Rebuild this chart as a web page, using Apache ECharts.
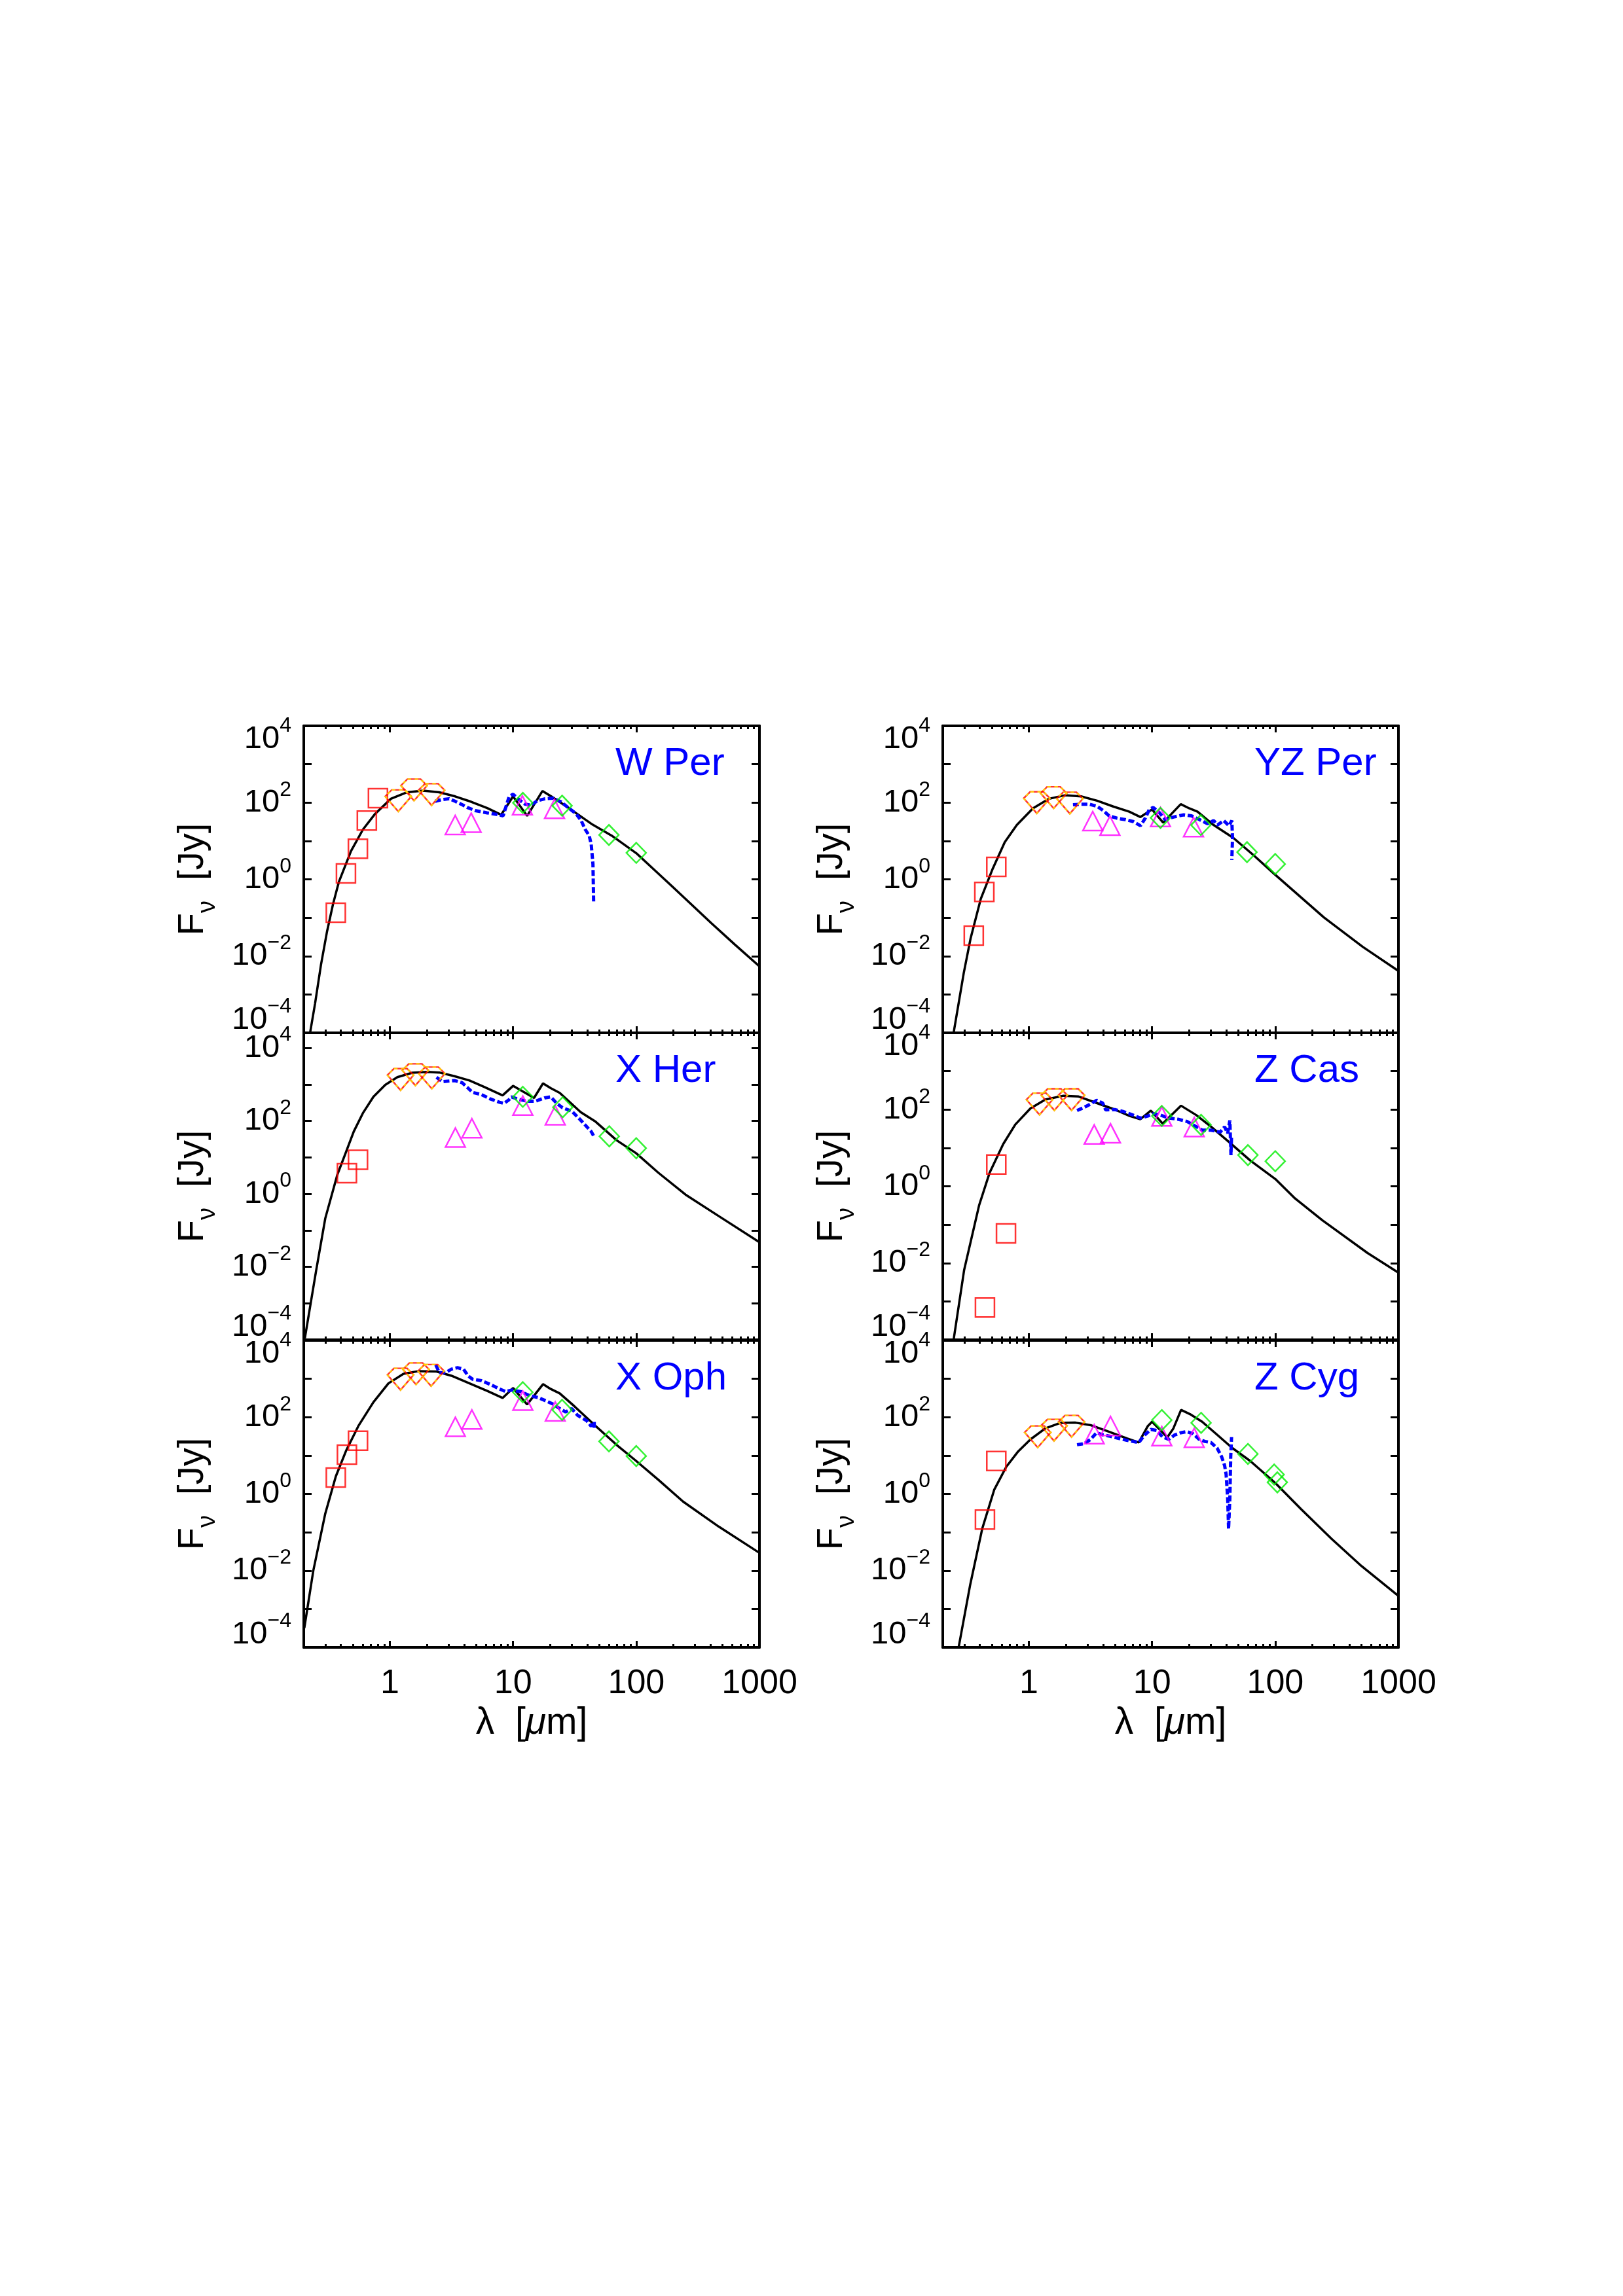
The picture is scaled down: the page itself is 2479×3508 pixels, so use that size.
<!DOCTYPE html>
<html>
<head>
<meta charset="utf-8">
<title>SEDs</title>
<script src="https://cdn.jsdelivr.net/npm/echarts@6/dist/echarts.min.js"></script>
<style>
  html, body { margin: 0; padding: 0; background: #fff; }
  #main { width: 2479px; height: 3508px; }
</style>
</head>
<body>
<div id="main"></div>
<script>
// star names, in panel order (row by row)
var starNames = ['W Per', 'YZ Per', 'X Her', 'Z Cas', 'X Oph', 'Z Cyg'];

// tick positions
var xMajor = [1, 10, 100, 1000];
var xMinor = [0.3, 0.4, 0.5, 0.6, 0.7, 0.8, 0.9, 2, 3, 4, 5, 6, 7, 8, 9,
              20, 30, 40, 50, 60, 70, 80, 90, 200, 300, 400, 500, 600, 700, 800, 900];
var yDecades = [1e-4, 1e-3, 1e-2, 1e-1, 1, 10, 100, 1e3, 1e4];

// ---- W Per ----  [wavelength um, flux Jy]
var wPerModel = [[0.225,1e-4],[0.247,5.8e-4],[0.276,6.0e-3],[0.309,0.044],[0.346,0.23],[0.386,0.87],[0.484,5.5],[0.605,20],[0.759,51],[1.02,126],[1.38,186],[1.86,204],[2.51,186],[3.39,145],[4.57,105],[6.17,72],[8.0,48],[10,145],[13,45],[17.3,200],[20.4,145],[29.5,66],[43.2,28],[63.1,13.8],[100,4.8],[193,0.68],[407,0.072],[631,0.02],[1000,0.0054]];
var wPerSws = [[2.33,108],[2.61,119],[3.03,126],[3.39,108],[3.79,91],[4.24,75],[4.92,62],[6.16,54],[7.71,48],[8.3,45],[9.3,145],[10,165],[11.2,119],[12.5,91],[14,86],[15.7,111],[18.2,126],[21.2,130],[24.6,104],[28.6,70],[32.5,51],[35.7,34],[38.5,20],[41.5,13.7],[43.1,8.1],[44.5,2.5],[45.1,0.24]];
var wPerUbvri = [[0.364,0.135],[0.44,1.42],[0.55,6.3],[0.65,34],[0.80,130]];
var wPerJhk = [[1.17,112],[1.57,214],[2.18,162]];
var wPerWise = [[3.39,26],[4.57,30],[11.9,85],[21.7,69]];
var wPerIras = [[12,98],[25,83],[60,14.3],[100,4.9]];

// ---- YZ Per ----
var yzPerModel = [[0.245,1e-4],[0.296,3.6e-3],[0.337,0.0295],[0.407,0.31],[0.509,1.9],[0.637,9.3],[0.798,26],[1.08,71],[1.46,126],[1.96,155],[2.65,145],[3.58,112],[4.84,79],[6.53,58],[8.05,42],[10,66],[12.3,30],[17.1,91],[20,71],[23.4,58],[31.6,26],[45.7,12],[67,4.2],[98,1.39],[249,0.101],[513,0.0174],[1000,0.0041]];
var yzPerSws = [[2.28,88],[2.65,91],[3.08,91],[3.58,80],[4.01,62],[4.49,45],[5.21,39],[6.06,36],[7.04,32],[8.05,25],[8.8,39],[9.5,66],[10.2,75],[11.5,54],[12.8,36],[14.9,42],[18,48],[20.9,45],[24.3,36],[28.2,28],[31.6,34],[34,26],[38.1,34],[42.1,25],[44.4,34],[45,12],[44.4,3.2]];
var yzPerUbvri = [[0.357,0.034],[0.435,0.47],[0.544,2.1]];
var yzPerJhk = [[1.16,100],[1.59,135],[2.15,98]];
var yzPerWise = [[3.3,33],[4.55,25],[11.7,42],[21.7,23]];
var yzPerIras = [[11.7,40],[24.9,26],[59,5.1],[100,2.5]];

// ---- X Her ----
var xHerModel = [[0.204,1.1e-4],[0.252,7.9e-3],[0.299,0.214],[0.374,3.3],[0.443,14.8],[0.509,51],[0.603,162],[0.735,457],[0.918,977],[1.15,1585],[1.52,2090],[2.02,2210],[2.52,2120],[3.34,1680],[4.43,1280],[5.86,850],[8.22,500],[10,912],[14.8,427],[17.5,1070],[20.2,794],[23.9,589],[35.4,174],[46.8,95],[69.2,29.5],[100,12.9],[151,3.8],[251,0.955],[468,0.245],[1000,0.047]];
var xHerSws = [[2.39,1570],[2.67,1190],[3.34,1280],[3.85,1120],[4.31,794],[4.69,603],[5.55,525],[6.56,398],[7.76,324],[8.45,302],[9.2,372],[9.7,457],[10.9,398],[12.9,347],[15.2,347],[18,427],[20.2,457],[22.6,302],[25.2,229],[29.9,186],[34.4,116],[38.5,77],[43.1,51],[45.6,36]];
var xHerUbvri = [[0.448,3.7],[0.551,8.6]];
var xHerJhk = [[1.22,1370],[1.61,1850],[2.19,1510]];
var xHerWise = [[3.4,35],[4.63,63],[12,263],[22,143]];
var xHerIras = [[12,457],[25.3,237],[60.4,37.8],[100,17.8]];

// ---- Z Cas ----
var zCasModel = [[0.245,1e-4],[0.298,6.5e-3],[0.395,0.324],[0.481,2.29],[0.619,12.6],[0.776,40.7],[1.03,107],[1.36,182],[1.91,229],[2.53,219],[3.55,148],[4.98,100],[6.59,68],[8.04,56],[9.77,94],[12.2,43],[17.2,126],[22.8,72],[30.2,35.5],[42.3,14.1],[62.7,4.7],[100,1.55],[145,0.48],[242,0.129],[562,0.0182],[1000,0.0056]];
var zCasSws = [[2.46,94],[2.83,115],[3.17,140],[3.55,174],[3.97,148],[4.2,98],[4.98,100],[5.89,88],[6.98,72],[8.04,60],[9.24,68],[10.3,78],[11.6,72],[13.7,60],[16.2,56],[19.2,49],[21.5,40],[25.5,29],[30.1,29],[35.7,25.7],[38.8,35.5],[41.1,24],[42.8,52],[43.7,6.5],[44.2,21]];
var zCasUbvri = [[0.44,6.9e-4],[0.544,3.7],[0.652,0.059]];
var zCasJhk = [[1.22,140],[1.61,182],[2.22,182]];
var zCasWise = [[3.39,22.4],[4.6,24],[12,66],[22,35]];
var zCasIras = [[12,68],[25,40],[60,6.5],[100,4.5]];

// ---- X Oph ----
var xOphModel = [[0.202,3.2e-4],[0.239,0.01],[0.299,0.309],[0.364,2.86],[0.443,13.8],[0.555,59],[0.735,245],[0.973,759],[1.29,1350],[1.71,1585],[2.39,1550],[3.16,1200],[4.43,759],[6.21,479],[8.22,316],[10,575],[13,214],[17.5,724],[20.2,543],[23.9,417],[31.6,190],[46.8,59],[69.2,19],[100,7.2],[151,2.34],[240,0.63],[468,0.14],[1000,0.029]];
var xOphSws = [[2.36,2290],[2.52,1450],[2.83,1450],[3.16,1780],[3.54,1950],[3.96,1780],[4.31,1200],[4.69,977],[5.55,891],[6.56,708],[7.76,543],[8.69,465],[9.72,509],[11.5,465],[13.6,366],[16.1,321],[19.1,254],[21.3,217],[23.9,167],[26.7,137],[29.9,167],[33.4,112],[39.6,81],[43.1,58],[45.6,76],[45.6,48]];
var xOphUbvri = [[0.364,2.67],[0.448,10.6],[0.551,24.3]];
var xOphJhk = [[1.22,977],[1.63,1360],[2.16,1230]];
var xOphWise = [[3.4,56],[4.63,87],[12,270],[22,141]];
var xOphIras = [[12,447],[25,155],[60,23.4],[100,9.7]];

// ---- Z Cyg ----
var zCygModel = [[0.269,1e-4],[0.333,4.1e-3],[0.418,0.123],[0.524,1.3],[0.656,5.1],[0.82,12.9],[1.03,26.3],[1.36,51],[1.81,71],[2.39,72],[3.17,62],[4.45,42],[6.24,28],[7.8,22],[9.25,59],[10,76],[13.3,30],[14.9,51],[17.2,155],[20.3,120],[25.5,76],[33.7,35],[44.7,15.8],[62.7,7.2],[100,1.93],[162,0.4],[286,0.068],[501,0.0132],[1000,2.2e-3]];
var zCygSws = [[2.46,19.1],[2.83,20.4],[3.17,26.5],[3.55,39.4],[3.97,34.6],[4.45,32.4],[5.26,28.4],[6.23,24.9],[7.8,21.8],[8.73,34.5],[9.78,48],[10.9,45],[12.2,30.3],[13.7,26.5],[15.3,34.5],[17.2,39.4],[19.2,42],[21.5,36.9],[24.1,26.5],[26.9,23.3],[30.1,21.8],[33.7,15.7],[36.7,9.3],[38.8,5.5],[39.9,3.26],[41.1,0.77],[41.8,0.122],[42.8,0.77],[43.5,9.3],[44.2,30.2]];
var zCygUbvri = [[0.44,0.215],[0.544,7.2]];
var zCygJhk = [[1.18,31],[1.6,46],[2.22,58]];
var zCygWise = [[3.39,36],[4.6,59],[12,32],[22,29]];
var zCygIras = [[12,84],[25,71],[60,11],[98,3.2],[104,2.0]];

// upper flux limit of each panel (X Her plot runs a bit higher)
var yMaxes = [1e4, 1e4, 2.6e4, 1e4, 1e4, 1e4];

var panels = [
  { model: wPerModel, sws: wPerSws, ubvri: wPerUbvri, jhk: wPerJhk, wise: wPerWise, iras: wPerIras },
  { model: yzPerModel, sws: yzPerSws, ubvri: yzPerUbvri, jhk: yzPerJhk, wise: yzPerWise, iras: yzPerIras },
  { model: xHerModel, sws: xHerSws, ubvri: xHerUbvri, jhk: xHerJhk, wise: xHerWise, iras: xHerIras },
  { model: zCasModel, sws: zCasSws, ubvri: zCasUbvri, jhk: zCasJhk, wise: zCasWise, iras: zCasIras },
  { model: xOphModel, sws: xOphSws, ubvri: xOphUbvri, jhk: xOphJhk, wise: xOphWise, iras: xOphIras },
  { model: zCygModel, sws: zCygSws, ubvri: zCygUbvri, jhk: zCygJhk, wise: zCygWise, iras: zCygIras }
];

var font = 'Liberation Sans, Arial, Helvetica, sans-serif';
var colLeft = [464, 1440];
var rowTop = [1109, 1578, 2048];
var gridW = 696, gridH = 469;
var gem = 'path://M25,0 L75,0 L100,30 L50,100 L0,30 Z';

function powLabel(v) {
  var e = Math.round(Math.log(v) / Math.LN10);
  return '{b|10}{s|' + (e < 0 ? '\u2212' + (-e) : e) + '}';
}
// superscript: token height 1 so 'top' puts it on the top of the line box
var powRich = {
  b: { fontSize: 49, lineHeight: 40, fontFamily: font, color: '#000' },
  s: { fontSize: 32, height: 1, lineHeight: 1, verticalAlign: 'top', fontFamily: font, color: '#000' }
};

var grids = [], xAxes = [], yAxes = [], series = [], titles = [];

function xAxis(i, pos, ticks, len, line, labels) {
  var ax = {
    type: 'log', logBase: 10, gridIndex: i, min: 0.2, max: 1000, position: pos,
    axisLine: { show: line, onZero: false, lineStyle: { color: '#000', width: 4 } },
    axisTick: { show: true, inside: true, length: len, customValues: ticks, lineStyle: { color: '#000', width: 3 } },
    axisLabel: { show: false },
    splitLine: { show: false }
  };
  if (labels) {
    ax.axisLabel = {
      show: true, customValues: xMajor, margin: 30, fontSize: 52, fontFamily: font, color: '#000',
      formatter: function (v) { return String(Math.round(v)); }
    };
    ax.name = '{a|\u03bb  [}{m|\u03bc}{a|m]}';
    ax.nameLocation = 'middle';
    ax.nameGap = 88;
    ax.nameTextStyle = { rich: {
      a: { fontSize: 57, fontFamily: font, color: '#000' },
      m: { fontSize: 57, fontFamily: font, fontStyle: 'italic', color: '#000' }
    } };
  }
  return ax;
}

function yAxis(i, pos, max, line, ticks, labels, va) {
  return {
    type: 'log', logBase: 10, gridIndex: i, min: 1e-4, max: max, position: pos,
    axisLine: { show: line, onZero: false, lineStyle: { color: '#000', width: 4 } },
    axisTick: ticks ? { show: true, inside: true, length: 12, customValues: ticks, lineStyle: { color: '#000', width: 3 } } : { show: false },
    axisLabel: labels ? { show: true, customValues: labels, formatter: powLabel, rich: powRich, margin: 19, verticalAlign: va } : { show: false },
    splitLine: { show: false }
  };
}

panels.forEach(function (p, i) {
  var col = i % 2, row = Math.floor(i / 2);
  var bottomRow = row === 2;
  var yMax = yMaxes[i];
  grids.push({ left: colLeft[col], top: rowTop[row], width: gridW, height: gridH });

  // x: bottom major, bottom minor, top major, top minor
  xAxes.push(xAxis(i, 'bottom', xMajor, 10, true, bottomRow));
  xAxes.push(xAxis(i, 'bottom', xMinor, 5, false, false));
  xAxes.push(xAxis(i, 'top', xMajor, 10, true, false));
  xAxes.push(xAxis(i, 'top', xMinor, 5, false, false));

  // y: left with middle labels, top label, bottom label, right frame
  var mid = yMax > 1e4 ? [1e-2, 1, 1e2, 1e4] : [1e-2, 1, 1e2];
  var left = yAxis(i, 'left', yMax, true, yDecades, mid, 'middle');
  left.name = '{f|F}{n|\u03bd}{f|  [Jy]}';
  left.nameLocation = 'middle';
  left.nameGap = 146;
  left.nameTextStyle = { rich: {
    f: { fontSize: 56, lineHeight: 46, fontFamily: font, color: '#000' },
    n: { fontSize: 38, height: 1, lineHeight: 1, verticalAlign: 'bottom', fontFamily: font, color: '#000' }
  } };
  yAxes.push(left);
  yAxes.push(yAxis(i, 'left', yMax, false, null, yMax > 1e4 ? null : [1e4], 'top'));
  yAxes.push(yAxis(i, 'left', yMax, false, null, [1e-4], 'bottom'));
  yAxes.push(yAxis(i, 'right', yMax, true, yDecades, null, 'middle'));

  var xi = 4 * i, yi = 4 * i;
  series.push({
    type: 'line', xAxisIndex: xi, yAxisIndex: yi, data: p.model, symbol: 'none',
    lineStyle: { color: '#000', width: 3.5 }, z: 2
  });
  series.push({
    type: 'line', xAxisIndex: xi, yAxisIndex: yi, data: p.sws, symbol: 'none',
    lineStyle: { color: '#0000ff', width: 5, type: [9, 4] }, z: 3
  });
  series.push({
    type: 'scatter', xAxisIndex: xi, yAxisIndex: yi, data: p.ubvri, symbol: 'rect', symbolSize: 29,
    itemStyle: { color: 'rgba(0,0,0,0)', borderColor: '#ff0000', borderWidth: 2.5 }, z: 4
  });
  series.push({
    type: 'scatter', xAxisIndex: xi, yAxisIndex: yi, data: p.jhk, symbol: gem, symbolSize: [40, 33],
    itemStyle: { color: 'rgba(0,0,0,0)', borderColor: '#ff0000', borderWidth: 2.5 }, z: 4
  });
  series.push({
    type: 'scatter', xAxisIndex: xi, yAxisIndex: yi, data: p.jhk, symbol: gem, symbolSize: [40, 33],
    itemStyle: { color: 'rgba(0,0,0,0)', borderColor: '#ffee00', borderWidth: 2.5, borderType: [5, 5] }, z: 5
  });
  series.push({
    type: 'scatter', xAxisIndex: xi, yAxisIndex: yi, data: p.wise, symbol: 'triangle', symbolSize: [30, 29],
    itemStyle: { color: 'rgba(0,0,0,0)', borderColor: '#ff00ff', borderWidth: 2.5 }, z: 4
  });
  series.push({
    type: 'scatter', xAxisIndex: xi, yAxisIndex: yi, data: p.iras, symbol: 'diamond', symbolSize: [30, 31],
    itemStyle: { color: 'rgba(0,0,0,0)', borderColor: '#00ee00', borderWidth: 2.5 }, z: 4
  });

  titles.push({
    text: starNames[i], left: colLeft[col] + 476, top: rowTop[row] + 28, padding: 0,
    textStyle: { color: '#0000ff', fontSize: 60, fontWeight: 'normal', fontFamily: font }
  });
});

var myChart = echarts.init(document.getElementById('main'));
myChart.setOption({
  backgroundColor: '#fff',
  animation: false,
  title: titles,
  grid: grids,
  xAxis: xAxes,
  yAxis: yAxes,
  series: series
});
</script>
</body>
</html>
